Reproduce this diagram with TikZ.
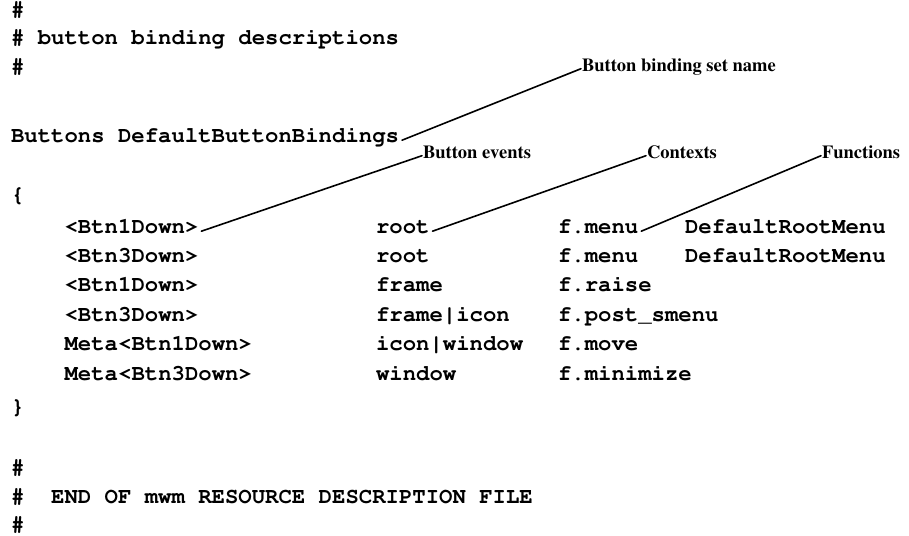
\documentclass[tikz,border=0pt]{standalone}
\usepackage[T1]{fontenc}

% typewriter text of the resource file and the bold captions
\newcommand{\codefont}{\fontfamily{pcr}\fontseries{b}\fontshape{n}\fontsize{22.3}{29.4}\selectfont}
\newcommand{\lblfont}{\fontfamily{ptm}\fontseries{b}\fontshape{n}\fontsize{18.5}{20}\selectfont}

\begin{document}
\begin{tikzpicture}[x=1pt,y=-1pt]

	\tikzset{
		code/.style={anchor=base west,inner sep=0pt,outer sep=3pt,font=\codefont,
			text height=0.5em,text depth=0.14em},
		lbl/.style={anchor=base west,inner sep=0pt,outer sep=1pt,font=\lblfont,
			text height=0.66em,text depth=0.2em},
		leader/.style={line width=1.6pt,line cap=round},
	}

	\useasboundingbox (0,0) rectangle (909,535);

	%========================================
	% Header comment
	%========================================
	\node[code] (hashA) at (8,16.5) {\#};
	\node[code] (hashB) at (8,44.5) {\# button binding descriptions};
	\node[code] (hashC) at (8,73)   {\#};

	%========================================
	% Binding set
	%========================================
	\node[code] (setname) at (8,142) {Buttons DefaultButtonBindings};
	\node[code] (open)    at (8,201) {\{};

	% Rows: event / context / function
	\foreach \ev/\ctx/\fn [count=\i from 0] in {
		{<Btn1Down>}/root/f.menu,
		{<Btn3Down>}/root/f.menu,
		{<Btn1Down>}/frame/f.raise,
		{<Btn3Down>}/frame|icon/f.post\_smenu,
		{Meta<Btn1Down>}/icon|window/f.move,
		{Meta<Btn3Down>}/window/f.minimize}{
		\node[code] (ev\i)  at (61.6,233+29.4*\i) {\ev};
		\node[code] (ctx\i) at (373,233+29.4*\i)  {\ctx};
		\node[code] (fn\i)  at (555,233+29.4*\i)  {\fn};
	}

	% Menu arguments of the first two rows
	\node[code] (argA) at (682,233)   {DefaultRootMenu};
	\node[code] (argB) at (682,262.4) {DefaultRootMenu};

	\node[code] (close) at (8,413) {\}};

	%========================================
	% Trailer comment
	%========================================
	\node[code] (hashD) at (8,474)   {\#};
	\node[code] (hashE) at (8,503)   {\#\ \ END OF mwm RESOURCE DESCRIPTION FILE};
	\node[code] (hashF) at (8,531.5) {\#};

	%========================================
	% Captions and leader lines
	%========================================
	\node[lbl] (lblSet)    at (581,71)  {Button binding set name};
	\node[lbl] (lblEvents) at (422,158) {Button events};
	\node[lbl] (lblCtx)    at (646,158) {Contexts};
	\node[lbl] (lblFn)     at (821,158) {Functions};

	\draw[leader] (setname.east) -- (lblSet.west);
	\draw[leader] (ev0.east)     -- (lblEvents.west);
	\draw[leader] (ctx0.east)    -- (lblCtx.west);
	\draw[leader] (fn0.east)     -- (lblFn.west);

\end{tikzpicture}
\end{document}
